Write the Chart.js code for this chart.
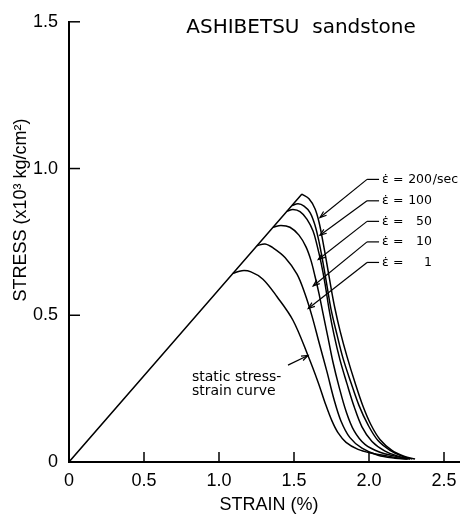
<!DOCTYPE html>
<html><head><meta charset="utf-8">
<script src="https://cdn.jsdelivr.net/npm/chart.js@4.4.0/dist/chart.umd.min.js"></script>
<style>html,body{margin:0;padding:0;background:#fff;}canvas{display:block;}</style>
</head><body>
<canvas id="c" width="467" height="517"></canvas>
<script>
// ---- data (strain %, stress x10^3 kg/cm^2) ----
const xTickValues = [0, 0.5, 1.0, 1.5, 2.0, 2.5];
const xTickLabels = ['0', '0.5', '1.0', '1.5', '2.0', '2.5'];
const yTickValues = [0, 0.5, 1.0, 1.5];
const yTickLabels = ['0', '0.5', '1.0', '1.5'];

const elasticStrain = [0, 1.553];
const elasticStress = [0, 0.913];

const staticStrain = [1.093, 1.153, 1.213, 1.293, 1.387, 1.493, 1.593, 1.66, 1.713, 1.753, 1.793, 1.847, 1.927, 2.02, 2.127, 2.207, 2.26];
const staticStress = [0.643, 0.652, 0.648, 0.623, 0.563, 0.483, 0.363, 0.273, 0.193, 0.14, 0.1, 0.067, 0.043, 0.03, 0.02, 0.013, 0.01];

const rate1Strain = [1.253, 1.307, 1.36, 1.44, 1.52, 1.573, 1.62, 1.667, 1.72, 1.767, 1.813, 1.873, 1.953, 2.06, 2.173, 2.253];
const rate1Stress = [0.737, 0.743, 0.73, 0.697, 0.64, 0.573, 0.497, 0.407, 0.307, 0.213, 0.14, 0.083, 0.047, 0.023, 0.013, 0.01];

const rate10Strain = [1.36, 1.413, 1.473, 1.533, 1.58, 1.613, 1.64, 1.667, 1.693, 1.727, 1.76, 1.8, 1.847, 1.9, 1.973, 2.073, 2.173, 2.273];
const rate10Stress = [0.8, 0.806, 0.8, 0.773, 0.733, 0.687, 0.633, 0.573, 0.507, 0.423, 0.34, 0.257, 0.173, 0.107, 0.06, 0.033, 0.02, 0.01];

const rate50Strain = [1.453, 1.493, 1.54, 1.587, 1.627, 1.653, 1.68, 1.707, 1.733, 1.767, 1.807, 1.853, 1.9, 1.953, 2.02, 2.107, 2.193, 2.273];
const rate50Stress = [0.855, 0.86, 0.853, 0.827, 0.787, 0.74, 0.68, 0.607, 0.523, 0.433, 0.347, 0.267, 0.19, 0.12, 0.07, 0.037, 0.02, 0.01];

const rate100Strain = [1.487, 1.527, 1.567, 1.607, 1.64, 1.667, 1.693, 1.72, 1.747, 1.787, 1.827, 1.88, 1.933, 1.993, 2.06, 2.14, 2.22, 2.287];
const rate100Stress = [0.874, 0.88, 0.872, 0.85, 0.807, 0.75, 0.68, 0.6, 0.52, 0.433, 0.353, 0.27, 0.193, 0.127, 0.073, 0.04, 0.02, 0.01];

const rate200Strain = [1.553, 1.6, 1.64, 1.667, 1.693, 1.72, 1.747, 1.773, 1.807, 1.853, 1.907, 1.96, 2.013, 2.073, 2.153, 2.233, 2.307];
const rate200Stress = [0.913, 0.897, 0.863, 0.817, 0.75, 0.673, 0.593, 0.523, 0.447, 0.36, 0.27, 0.19, 0.127, 0.077, 0.04, 0.02, 0.01];

const rateLabels = ['200', '100', '50', '10', '1'];
const chartTitle = 'ASHIBETSU  sandstone';
const xTitle = 'STRAIN (%)';
const yTitle = 'STRESS (x10\u00B3 kg/cm\u00B2)';
const staticLabel = ['static stress-', 'strain curve'];

// ---- build ----
const pts = (xs, ys) => xs.map((x, i) => ({ x: x, y: ys[i] }));
const lineDs = (label, xs, ys) => ({
  label: label, data: pts(xs, ys), borderColor: '#000', borderWidth: 1.5,
  pointRadius: 0, fill: false, tension: 0.35
});

const FONT = '"Liberation Sans", Arial, sans-serif';
const RFONT = '"DejaVu Sans", sans-serif';

const annot = {
  id: 'annot',
  afterDraw(chart) {
    const { ctx, scales: { x, y } } = chart;
    const X = v => x.getPixelForValue(v), Y = v => y.getPixelForValue(v);
    ctx.save();
    ctx.strokeStyle = '#000'; ctx.fillStyle = '#000'; ctx.lineWidth = 1.5;
    // inward ticks
    xTickValues.forEach(v => { if (v === 0) return; ctx.beginPath(); ctx.moveTo(X(v), Y(0)); ctx.lineTo(X(v), Y(0) - 10); ctx.stroke(); });
    yTickValues.forEach(v => { if (v === 0) return; ctx.beginPath(); ctx.moveTo(X(0), Y(v)); ctx.lineTo(X(0) + 11, Y(v)); ctx.stroke(); });

    // titles
    ctx.font = '20px ' + RFONT; ctx.textAlign = 'center'; ctx.textBaseline = 'middle';
    ctx.fillText(chartTitle, 301, 28);
    ctx.font = '18px ' + FONT;
    ctx.fillText(xTitle, 269, 505);
    ctx.save(); ctx.translate(21, 210); ctx.rotate(-Math.PI / 2); ctx.fillText(yTitle, 0, 0); ctx.restore();

    // arrow helper
    const arrow = (x1, y1, x2, y2) => {
      ctx.beginPath(); ctx.moveTo(x1, y1); ctx.lineTo(x2, y2); ctx.stroke();
      const a = Math.atan2(y2 - y1, x2 - x1), L = 7;
      ctx.beginPath();
      ctx.moveTo(x2 - L * Math.cos(a - 0.35), y2 - L * Math.sin(a - 0.35));
      ctx.lineTo(x2, y2);
      ctx.lineTo(x2 - L * Math.cos(a + 0.35), y2 - L * Math.sin(a + 0.35));
      ctx.stroke();
    };

    // rate labels with leaders (annotation anchors in data units)
    const rowY = [0.963, 0.89, 0.82, 0.75, 0.68];
    const tips = [[1.673, 0.833], [1.673, 0.773], [1.662, 0.69], [1.628, 0.6], [1.595, 0.523]];
    ctx.lineWidth = 1.2;
    ctx.font = '12.5px ' + RFONT; ctx.textBaseline = 'middle';
    rateLabels.forEach((r, i) => {
      const yy = Y(rowY[i]);
      ctx.beginPath(); ctx.moveTo(X(1.987), yy); ctx.lineTo(X(2.067), yy); ctx.stroke();
      arrow(X(1.987), yy, X(tips[i][0]), Y(tips[i][1]));
      ctx.textAlign = 'left';
      ctx.fillText('\u03B5\u0307', X(2.087), yy);
      ctx.fillText('=', X(2.16), yy);
      ctx.textAlign = 'right';
      ctx.fillText(r, X(2.42), yy);
      if (i === 0) { ctx.textAlign = 'left'; ctx.fillText('/sec', X(2.425), yy); }
    });

    // static curve label
    ctx.font = '14px ' + RFONT; ctx.textAlign = 'left';
    ctx.fillText(staticLabel[0], X(0.82), Y(0.29));
    ctx.fillText(staticLabel[1], X(0.82), Y(0.24));
    arrow(X(1.46), Y(0.33), X(1.593), Y(0.363));
    ctx.restore();
  }
};

new Chart(document.getElementById('c'), {
  type: 'line',
  data: {
    datasets: [
      lineDs('elastic', elasticStrain, elasticStress),
      lineDs('static', staticStrain, staticStress),
      lineDs('1', rate1Strain, rate1Stress),
      lineDs('10', rate10Strain, rate10Stress),
      lineDs('50', rate50Strain, rate50Stress),
      lineDs('100', rate100Strain, rate100Stress),
      lineDs('200/sec', rate200Strain, rate200Stress)
    ]
  },
  options: {
    responsive: false, animation: false,
    layout: { padding: { left: 0, top: 12, right: 8, bottom: 0 } },
    plugins: { legend: { display: false }, title: { display: false }, tooltip: { enabled: false } },
    scales: {
      x: {
        type: 'linear', min: 0, max: 2.6,
        afterFit: s => { s.height = 55; },
        afterBuildTicks: s => { s.ticks = xTickValues.map(v => ({ value: v })); },
        ticks: { callback: (v, i) => xTickLabels[i], color: '#000', font: { family: FONT, size: 18 }, padding: 8, maxRotation: 0, autoSkip: false },
        grid: { drawOnChartArea: false, drawTicks: false },
        border: { display: true, color: '#000', width: 2 }
      },
      y: {
        type: 'linear', min: 0, max: 1.5,
        afterFit: s => { s.width = 69; },
        afterBuildTicks: s => { s.ticks = yTickValues.map(v => ({ value: v })); },
        ticks: { callback: (v, i) => yTickLabels[i], color: '#000', font: { family: FONT, size: 18 }, padding: 11, autoSkip: false },
        grid: { drawOnChartArea: false, drawTicks: false },
        border: { display: true, color: '#000', width: 2 }
      }
    }
  },
  plugins: [annot]
});
</script>
</body></html>
